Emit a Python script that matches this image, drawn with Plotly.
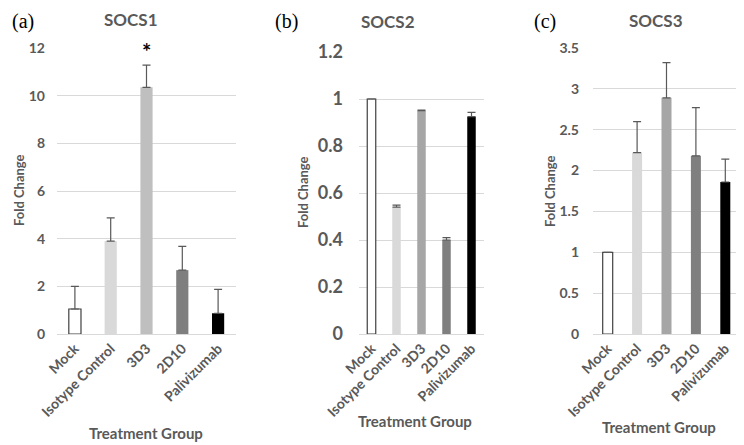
import plotly.graph_objects as go
from plotly.subplots import make_subplots

groups = ["Mock", "Isotype Control", "3D3", "2D10", "Palivizumab"]

socs1_vals = [1.05, 3.9, 10.35, 2.68, 0.87]
socs1_err = [0.95, 0.97, 0.93, 1.0, 1.0]

socs2_vals = [1.0, 0.54, 0.95, 0.40, 0.925]
socs2_err = [0.0, 0.008, 0.003, 0.01, 0.018]

socs3_vals = [1.0, 2.22, 2.89, 2.18, 1.86]
socs3_err = [0.0, 0.38, 0.43, 0.59, 0.28]

colors_a = ["white", "#d9d9d9", "#bfbfbf", "#7f7f7f", "#000000"]
colors_bc = ["white", "#d9d9d9", "#a6a6a6", "#7f7f7f", "#000000"]
outline = ["#404040", "rgba(0,0,0,0)", "rgba(0,0,0,0)", "rgba(0,0,0,0)", "rgba(0,0,0,0)"]

GRAY = "#595959"
FONT = "Lato"

W, H = 744, 445
OFF = 8  # page body margin offsets the plot div


def px(x):
    return (x - OFF) / W


def py(y):
    return 1 - (y - OFF) / H


fig = make_subplots(rows=1, cols=3)

panels = [
    (socs1_vals, socs1_err, colors_a),
    (socs2_vals, socs2_err, colors_bc),
    (socs3_vals, socs3_err, colors_bc),
]
for i, (vals, errs, cols) in enumerate(panels, start=1):
    fig.add_trace(go.Bar(
        x=groups, y=vals,
        marker=dict(color=cols, line=dict(color=outline, width=1.2)),
        error_y=dict(type="data", array=errs, arrayminus=[0] * 5, symmetric=False,
                     color=GRAY, thickness=1.2, width=4),
        width=0.34,
        showlegend=False,
    ), row=1, col=i)

x_doms = [(px(57), px(236)), (px(359), px(484)), (px(593), px(740))]
y_doms = [(py(334), py(48)), (py(334), py(52)), (py(334), py(48))]
y_ranges = [[0, 12], [0, 1.2], [0, 3.5]]
y_dticks = [2, 0.2, 0.5]
tick_sizes = [14, 18, 14]
tick_standoff = [11, 15, 13]

for i in range(3):
    n = "" if i == 0 else str(i + 1)
    fig.layout["xaxis" + n].update(
        domain=x_doms[i], tickangle=-45, automargin=False,
        tickfont=dict(family=FONT, size=14, color=GRAY, weight="bold"),
        showgrid=False, showline=True, linecolor="#d9d9d9", ticks="",
    )
    fig.layout["yaxis" + n].update(
        domain=y_doms[i], range=y_ranges[i], dtick=y_dticks[i], automargin=False,
        showgrid=True, gridcolor="#d9d9d9", zeroline=False, showline=False,
        tickfont=dict(family=FONT, size=tick_sizes[i], color=GRAY, weight="bold"),
        ticks="", ticklabelstandoff=tick_standoff[i],
    )


def label(text, x, y, font, angle=0):
    fig.add_annotation(text=text, x=px(x), y=py(y), xref="paper", yref="paper",
                       xanchor="center", yanchor="middle", textangle=angle,
                       showarrow=False, font=font)


# panel titles (nudged down a little so they stay inside the page)
for txt, xp, yp in [("SOCS1", 131, 19), ("SOCS2", 388, 21), ("SOCS3", 656, 20)]:
    label(txt, xp, yp, dict(family=FONT, size=17, color=GRAY, weight="bold"))
# panel letters
for lbl, xp, yp in [("(a)", 23, 21), ("(b)", 286, 22), ("(c)", 545, 21)]:
    label(lbl, xp, yp, dict(family="Liberation Serif", size=20, color="black"))
# axis titles
for xp, yp in [(146, 433), (415, 421), (659, 427)]:
    label("Treatment Group", xp, yp, dict(family=FONT, size=15, color=GRAY, weight="bold"))
for xp, yp in [(19, 190), (303, 192), (550, 191)]:
    label("Fold Change", xp, yp, dict(family=FONT, size=13, color=GRAY, weight="bold"), angle=-90)

# significance marker above 3D3
fig.add_annotation(text="*", x="3D3", y=12, xref="x", yref="y", yshift=-3,
                   showarrow=False, font=dict(family=FONT, size=22, color="black", weight="bold"))

fig.update_layout(
    width=W, height=H,
    margin=dict(l=0, r=0, t=0, b=0),
    plot_bgcolor="white", paper_bgcolor="white",
    bargap=0.66,
)

fig.write_html("out.html")
